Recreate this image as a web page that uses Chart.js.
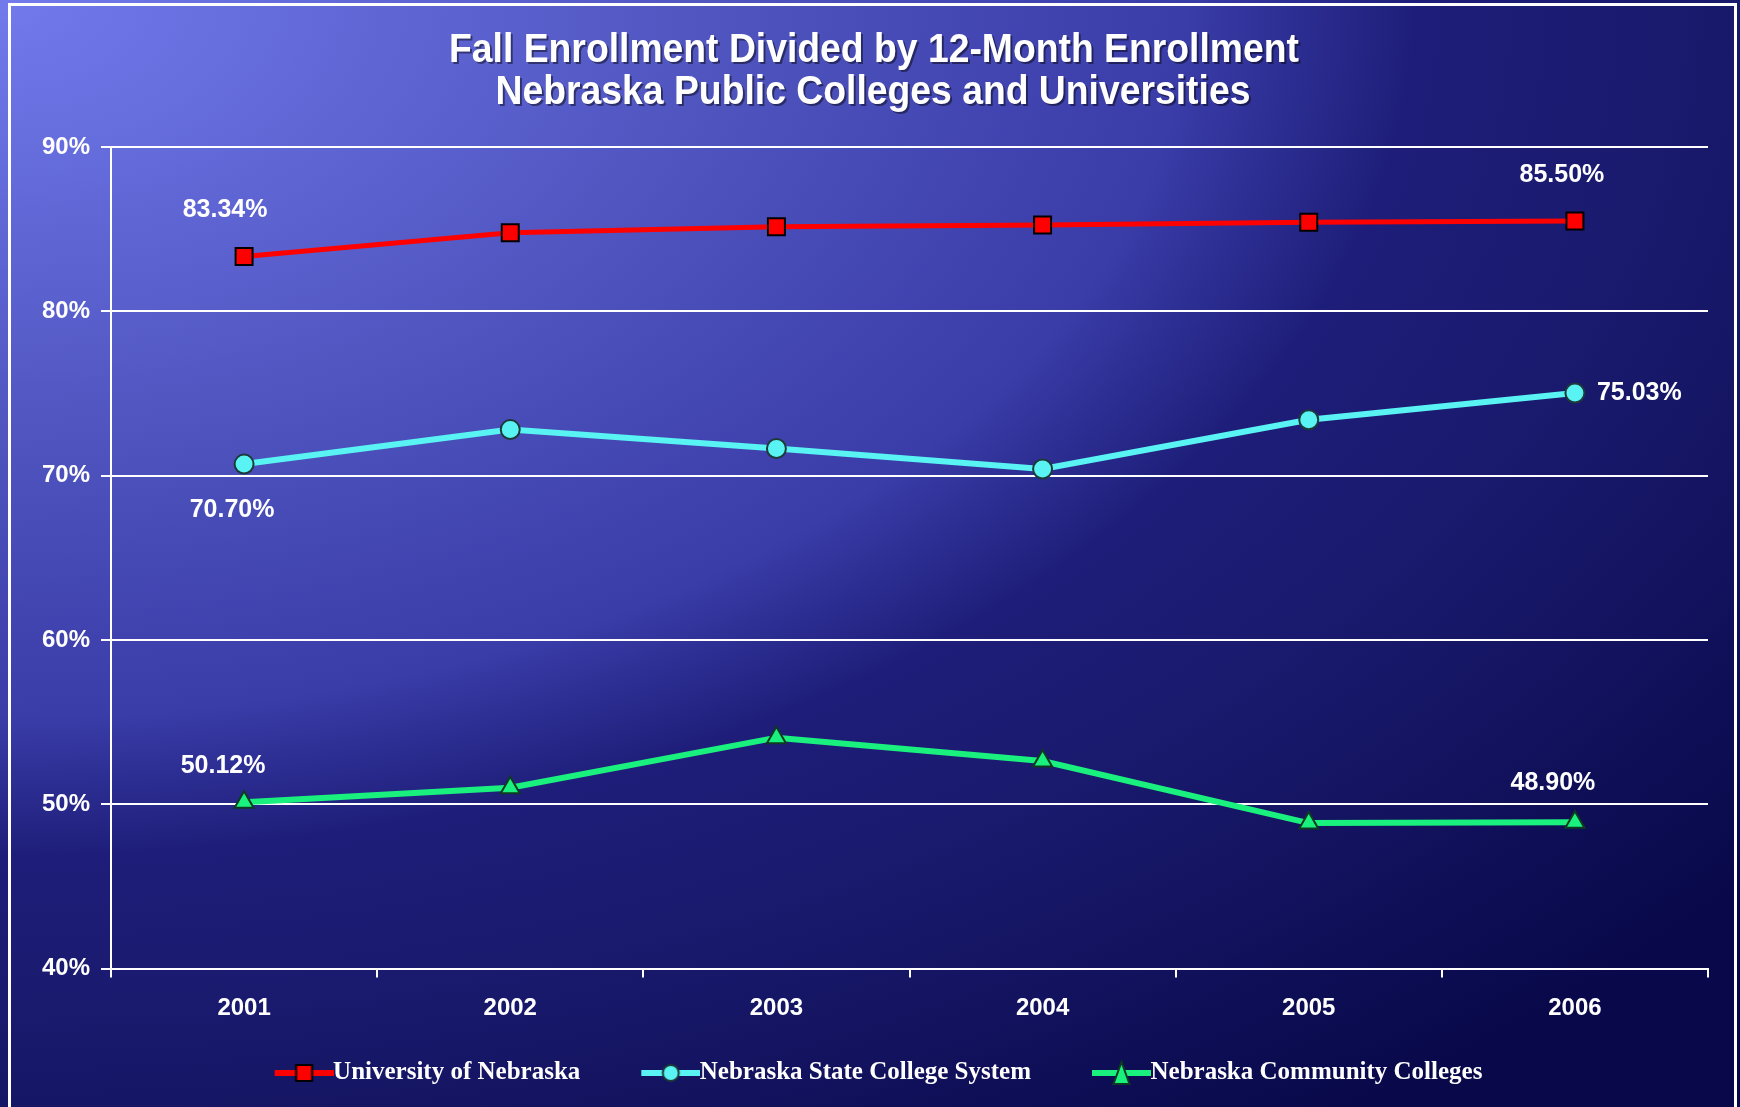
<!DOCTYPE html>
<html>
<head>
<meta charset="utf-8">
<title>Fall Enrollment Divided by 12-Month Enrollment</title>
<script src="https://cdn.jsdelivr.net/npm/chart.js@4.4.1/dist/chart.umd.min.js"></script>
<style>
  html, body { margin: 0; padding: 0; }
  body {
    width: 1740px; height: 1107px; overflow: hidden; position: relative;
    background: radial-gradient(ellipse 2280px 1380px at 0 0,
      #727aec 0%, #5055c0 31%, #3a3ca8 52%, #1e1e7a 62%, #18186a 77%, #08084a 100%);
  }
  #frame {
    position: absolute; left: 8px; top: 3px; width: 1729px; height: 1200px;
    box-sizing: border-box; border: 3px solid #fff; border-bottom: none;
  }
  #wrap { position: absolute; left: 0; top: 0; width: 1740px; height: 1107px; }
</style>
</head>
<body>
<div id="frame"></div>
<div id="wrap"><canvas id="chart" width="1740" height="1107"></canvas></div>
<script>
// ---- Data ----
const YEARS = ["2001", "2002", "2003", "2004", "2005", "2006"];
const UNIVERSITY = [83.34, 84.78, 85.15, 85.25, 85.42, 85.50];
const STATE_COLLEGES = [70.70, 72.80, 71.65, 70.40, 73.40, 75.03];
const COMMUNITY_COLLEGES = [50.12, 51.00, 54.05, 52.63, 48.85, 48.90];
const SERIES_NAMES = ["University of Nebraska", "Nebraska State College System", "Nebraska Community Colleges"];
const TITLE_LINES = ["Fall Enrollment Divided by 12-Month Enrollment", "Nebraska Public Colleges and Universities"];

// ---- Styles ----
const SANS = '"Liberation Sans", Arial, sans-serif';
const SERIF = '"Liberation Serif", "Times New Roman", serif';
const STYLES = [
  { color: "#ff0000", border: "#000000", marker: "rect", radius: 12, width: 5 },
  { color: "#5af3f3", border: "#1d3a3a", marker: "circle", radius: 9.5, width: 6 },
  { color: "#1af07d", border: "#0f3a22", marker: "triangle", radius: 11, width: 6 },
];

// which end points carry a value label, and where it sits relative to the point
const END_LABELS = [
  { ds: 0, idx: 0, dx: -19, dy: -46, align: "center" },
  { ds: 0, idx: 5, dx: -13, dy: -46, align: "center" },
  { ds: 1, idx: 0, dx: -12, dy: 46, align: "center" },
  { ds: 1, idx: 5, dx: 22, dy: 0, align: "left" },
  { ds: 2, idx: 0, dx: -21, dy: -36, align: "center" },
  { ds: 2, idx: 5, dx: -22, dy: -39, align: "center" },
];

// legend geometry: the icon image is wider than its box so the line
// reaches the text and leaves the blank part on the left
const LEGEND_FONT = 25;
const LEGEND_PAD = 32;
const LEGEND_BOX = 75;
const ICON_W = LEGEND_BOX + 26;
const ICON_LINE_START = 42;

function legendIcon(st) {
  const c = document.createElement("canvas");
  c.width = ICON_W; c.height = 26;
  const ctx = c.getContext("2d");
  const mid = (ICON_LINE_START + ICON_W) / 2;
  ctx.strokeStyle = st.color;
  ctx.lineWidth = 6;
  ctx.beginPath(); ctx.moveTo(ICON_LINE_START, 13); ctx.lineTo(ICON_W, 13); ctx.stroke();
  ctx.fillStyle = st.color;
  ctx.strokeStyle = st.border;
  ctx.lineWidth = 2;
  ctx.beginPath();
  if (st.marker === "rect") ctx.rect(mid - 8, 5, 16, 16);
  else if (st.marker === "circle") ctx.arc(mid, 13, 8, 0, Math.PI * 2);
  else { ctx.moveTo(mid, 2); ctx.lineTo(mid + 8, 24); ctx.lineTo(mid - 8, 24); ctx.closePath(); }
  ctx.fill(); ctx.stroke();
  return c;
}

const titlePlugin = {
  id: "slideTitle",
  afterDraw(chart) {
    const ctx = chart.ctx;
    ctx.save();
    ctx.fillStyle = "#fff";
    ctx.textAlign = "center";
    ctx.textBaseline = "middle";
    ctx.shadowColor = "rgba(0,0,0,0.45)";
    ctx.shadowOffsetX = 2; ctx.shadowOffsetY = 2;
    ctx.font = "bold 41px " + SANS;
    // narrow look of the original title face
    const rows = [[874, 51], [873, 93]];
    TITLE_LINES.forEach((t, i) => {
      ctx.save();
      ctx.translate(rows[i][0], rows[i][1]);
      ctx.scale(0.91, 1);
      ctx.fillText(t, 0, 0);
      ctx.restore();
    });
    ctx.restore();
  },
};

const endLabelPlugin = {
  id: "endLabels",
  afterDatasetsDraw(chart) {
    const ctx = chart.ctx;
    ctx.save();
    ctx.fillStyle = "#fff";
    ctx.font = "bold 25px " + SANS;
    ctx.textBaseline = "middle";
    for (const l of END_LABELS) {
      const pt = chart.getDatasetMeta(l.ds).data[l.idx];
      const v = chart.data.datasets[l.ds].data[l.idx];
      ctx.textAlign = l.align;
      ctx.fillText(v.toFixed(2) + "%", pt.x + l.dx, pt.y + l.dy);
    }
    ctx.restore();
  },
};

const seriesData = [UNIVERSITY, STATE_COLLEGES, COMMUNITY_COLLEGES];

new Chart(document.getElementById("chart"), {
  type: "line",
  data: {
    labels: YEARS,
    datasets: seriesData.map((d, i) => ({
      label: SERIES_NAMES[i],
      data: d,
      borderColor: STYLES[i].color,
      backgroundColor: STYLES[i].color,
      borderWidth: STYLES[i].width,
      pointStyle: STYLES[i].marker,
      pointRadius: STYLES[i].radius,
      pointBackgroundColor: STYLES[i].color,
      pointBorderColor: STYLES[i].border,
      pointBorderWidth: 2,
      tension: 0,
    })),
  },
  options: {
    responsive: false,
    animation: false,
    devicePixelRatio: 1,
    layout: { padding: { top: 147, left: 20, right: 32, bottom: 11.5 } },
    plugins: {
      title: { display: false },
      tooltip: { enabled: false },
      legend: {
        position: "bottom",
        labels: {
          usePointStyle: true,
          pointStyleWidth: LEGEND_BOX,
          padding: LEGEND_PAD,
          color: "#fff",
          font: { family: SERIF, size: LEGEND_FONT, weight: "bold" },
          generateLabels(chart) {
            return chart.data.datasets.map((ds, i) => ({
              text: ds.label,
              pointStyle: legendIcon(STYLES[i]),
              fontColor: "#fff",
              fillStyle: STYLES[i].color,
              strokeStyle: STYLES[i].color,
              lineWidth: 0,
              hidden: false,
              datasetIndex: i,
            }));
          },
        },
      },
    },
    scales: {
      x: {
        offset: true,
        grid: { display: true, drawOnChartArea: false, offset: true, color: "#fff", lineWidth: 2, tickLength: 9 },
        border: { display: true, color: "#fff", width: 2 },
        ticks: { color: "#fff", font: { family: SANS, size: 24, weight: "bold" }, padding: 16 },
        afterFit(scale) { scale.height = 60; },
      },
      y: {
        min: 40,
        max: 90,
        ticks: {
          stepSize: 10,
          color: "#fff",
          font: { family: SANS, size: 24, weight: "bold" },
          padding: 11,
          callback: v => v + "%",
        },
        grid: { color: "#fff", lineWidth: 2, tickLength: 10 },
        border: { display: true, color: "#fff", width: 2 },
        afterFit(scale) { scale.width = 91; },
      },
    },
  },
  plugins: [titlePlugin, endLabelPlugin],
});
</script>
</body>
</html>
